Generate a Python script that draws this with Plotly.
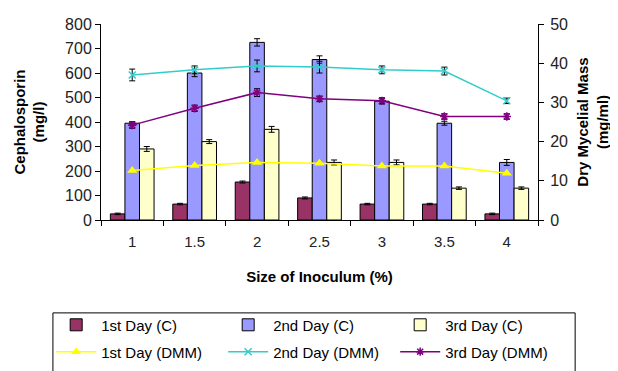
import plotly.graph_objects as go

categories = ["1", "1.5", "2", "2.5", "3", "3.5", "4"]

day1_c = [25, 65, 155, 90, 65, 65, 25]
day2_c = [395, 600, 725, 655, 485, 395, 235]
day3_c = [290, 320, 370, 235, 235, 130, 130]
day1_c_err = [3, 3, 4, 4, 3, 3, 3]
day2_c_err = [6, 15, 15, 15, 10, 8, 12]
day3_c_err = [10, 8, 12, 10, 10, 5, 5]

day1_dmm = [12.6, 13.9, 14.7, 14.5, 13.8, 13.8, 11.9]
day2_dmm = [37.0, 38.3, 39.3, 39.0, 38.3, 38.0, 30.4]
day3_dmm = [24.2, 28.5, 32.5, 30.9, 30.4, 26.4, 26.4]
day2_dmm_err = [1.5, 1.0, 1.5, 1.5, 1.0, 1.0, 0.7]
day3_dmm_err = [0.8, 0.8, 1.0, 0.7, 0.8, 0.7, 0.7]

FONT = "Liberation Sans, Arial, sans-serif"
TICK_COLOR = "#222"

fig = go.Figure()

def bar(name, vals, err, color):
    fig.add_trace(go.Bar(
        x=categories, y=vals, name=name, legend="legend",
        marker=dict(color=color, line=dict(color="black", width=1)),
        error_y=dict(type="data", array=err, color="black", thickness=1, width=3),
    ))

bar("1st Day (C)", day1_c, day1_c_err, "#993366")
bar("2nd Day (C)", day2_c, day2_c_err, "#9999FF")
bar("3rd Day (C)", day3_c, day3_c_err, "#FFFFCC")

fig.add_trace(go.Scatter(
    x=categories, y=day1_dmm, name="1st Day (DMM)", yaxis="y2", legend="legend2",
    mode="lines+markers", line=dict(color="#FFFF00", width=1.5),
    marker=dict(symbol="triangle-up", size=9, color="#FFFF00"),
))
fig.add_trace(go.Scatter(
    x=categories, y=day2_dmm, name="2nd Day (DMM)", yaxis="y2", legend="legend2",
    mode="lines+markers", line=dict(color="#33CCCC", width=1.5),
    marker=dict(symbol="x-thin-open", size=7, color="#33CCCC", line=dict(width=1.5, color="#33CCCC")),
    error_y=dict(type="data", array=day2_dmm_err, color="black", thickness=1, width=3),
))
fig.add_trace(go.Scatter(
    x=categories, y=day3_dmm, name="3rd Day (DMM)", yaxis="y2", legend="legend2",
    mode="lines+markers", line=dict(color="#800080", width=1.5),
    marker=dict(symbol="asterisk-open", size=7, color="#800080", line=dict(width=1.5, color="#800080")),
    error_y=dict(type="data", array=day3_dmm_err, color="black", thickness=1, width=3),
))

legend_common = dict(
    orientation="h", x=-0.114, xanchor="left", yanchor="middle",
    borderwidth=0, bgcolor="rgba(0,0,0,0)",
    entrywidth=117, entrywidthmode="pixels",
    font=dict(size=15, color="black"), itemwidth=40,
)

# page body has an 8px margin; the figure is sized so the plot lands where the reference has it
fig.update_layout(
    width=610, height=363,
    margin=dict(l=93, r=80, t=16, b=151, autoexpand=False),
    paper_bgcolor="white", plot_bgcolor="white",
    font=dict(family=FONT, size=14, color="black"),
    barmode="group", bargap=0.3, bargroupgap=0,
    showlegend=True,
    legend=dict(legend_common, y=-0.536),
    legend2=dict(legend_common, y=-0.673),
    shapes=[dict(type="rect", xref="paper", yref="paper",
                 x0=-0.11, x1=1.085, y0=-0.474, y1=-0.85,
                 line=dict(color="black", width=1), fillcolor="rgba(0,0,0,0)")],
    xaxis=dict(
        type="category", tickson="boundaries", ticks="outside", ticklen=5,
        showline=True, linecolor="black", linewidth=1, tickcolor="black",
        showgrid=False, tickfont=dict(size=15, color=TICK_COLOR), ticklabelstandoff=8,
        title=dict(text="<b>Size of Inoculum (%)</b>", font=dict(size=15), standoff=22),
    ),
    yaxis=dict(
        range=[0, 800], dtick=100, ticks="outside", ticklen=5,
        showline=True, linecolor="black", linewidth=1, tickcolor="black",
        showgrid=False, zeroline=False, tickfont=dict(size=16, color=TICK_COLOR),
        title=dict(text="<b>Cephalosporin<br>(mg/l)</b>", font=dict(size=15), standoff=16),
    ),
    yaxis2=dict(
        range=[0, 50], dtick=10, overlaying="y", side="right", ticks="outside", ticklen=5,
        showline=True, linecolor="black", linewidth=1, tickcolor="black",
        showgrid=False, zeroline=False, tickfont=dict(size=16, color=TICK_COLOR), ticklabelstandoff=3,
        title=dict(text="<b>Dry Mycelial Mass<br>(mg/ml)</b>", font=dict(size=15), standoff=10),
    ),
)

fig.write_html("out.html")
